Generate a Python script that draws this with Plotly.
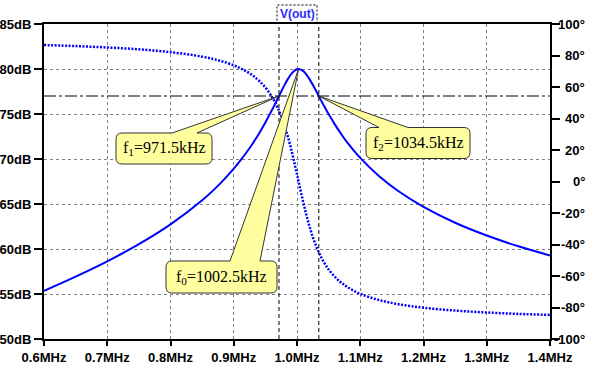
import plotly.graph_objects as go

# ---------------- data ----------------
freq_mhz = [0.60, 0.65, 0.70, 0.75, 0.80, 0.85, 0.88, 0.90, 0.91, 0.92, 0.93, 0.94, 0.95,
            0.96, 0.965, 0.97, 0.975, 0.98, 0.985, 0.99, 0.995, 1.00, 1.0025, 1.01, 1.015,
            1.02, 1.025, 1.03, 1.035, 1.04, 1.045, 1.05, 1.06, 1.07, 1.08, 1.10, 1.13,
            1.16, 1.20, 1.25, 1.30, 1.35, 1.40]
mag_db = [55.35, 56.93, 58.63, 60.53, 62.73, 65.41, 67.38, 68.92, 69.79, 70.72, 71.73, 72.84,
          74.06, 75.38, 76.07, 76.78, 77.49, 78.18, 78.82, 79.36, 79.76, 79.97, 80.00, 79.76,
          79.37, 78.85, 78.24, 77.59, 76.93, 76.26, 75.62, 74.99, 73.82, 72.76, 71.79, 70.12,
          68.08, 66.44, 64.68, 62.92, 61.50, 60.30, 59.28]
phase_deg = [86.64, 85.98, 85.10, 83.90, 82.13, 79.26, 76.47, 73.78, 72.03, 69.91, 67.29, 63.98,
             59.70, 54.03, 50.49, 46.33, 41.50, 35.81, 29.25, 21.76, 13.43, 4.54, 0.0, -13.34,
             -21.52, -28.83, -35.22, -40.72, -45.42, -49.44, -52.87, -55.84, -60.60, -64.25,
             -67.12, -71.32, -75.31, -77.88, -80.13, -81.95, -83.18, -84.06, -84.72]

x_ticks = [0.6, 0.7, 0.8, 0.9, 1.0, 1.1, 1.2, 1.3, 1.4]
x_ticktext = ["0.6MHz", "0.7MHz", "0.8MHz", "0.9MHz", "1.0MHz", "1.1MHz", "1.2MHz", "1.3MHz", "1.4MHz"]
y_ticks = [50, 55, 60, 65, 70, 75, 80, 85]
y_ticktext = ["50dB", "55dB", "60dB", "65dB", "70dB", "75dB", "80dB", "85dB"]
y2_ticks = [100, 80, 60, 40, 20, 0, -20, -40, -60, -80, -100]
y2_ticktext = ["100°", "80°", "60°", "40°", "20°", "0°", "-20°", "-40°", "-60°", "-80°", "-100°"]

cursor_khz = [971.5, 1002.5, 1034.5]      # f1, f0, f2
cursor_names = ["f<sub>1</sub>", "f<sub>0</sub>", "f<sub>2</sub>"]
peak_db = 80.0
level_3db = peak_db - 3.0

# ---------------- geometry ----------------
W, H = 595, 369
L, R, T, B = 44, 550, 24, 339
XMIN, XMAX = 0.6, 1.4
YMIN, YMAX = 50, 85


def fx(px):
    return XMIN + (px - L) * (XMAX - XMIN) / (R - L)


def fy(py):
    return YMAX - (py - T) * (YMAX - YMIN) / (B - T)


def px_x(px):
    return (px - L) / (R - L)


def px_y(py):
    return (B - py) / (B - T)


BLUE = "#0000ff"
FONT = "Liberation Sans, Arial, sans-serif"
tickfont = dict(family=FONT, size=13, color="black", weight="bold")

fig = go.Figure()
fig.add_trace(go.Scatter(x=freq_mhz, y=mag_db, mode="lines", yaxis="y",
                         line=dict(color=BLUE, width=2, shape="spline"), hoverinfo="skip"))
fig.add_trace(go.Scatter(x=freq_mhz, y=phase_deg, mode="lines", yaxis="y2",
                         line=dict(color=BLUE, width=2.5, dash="2px,1.5px", shape="spline"),
                         hoverinfo="skip"))

shapes = []
# cursor lines
for k in (cursor_khz[0], cursor_khz[2]):
    shapes.append(dict(type="line", xref="x", yref="paper", x0=k / 1000, x1=k / 1000, y0=0, y1=1,
                       line=dict(color="black", width=1, dash="4px,3px")))
shapes.append(dict(type="line", xref="paper", yref="y", x0=0, x1=1, y0=level_3db, y1=level_3db,
                   line=dict(color="black", width=1, dash="12px,3px,3px,3px")))


def callout(box, base, tip, r=6):
    x0, y0, x1, y1 = box
    p = "M{},{} ".format(fx(base[0]), fy(y0))
    p += "L{},{} ".format(tip[0], tip[1])
    p += "L{},{} ".format(fx(base[1]), fy(y0))
    p += "L{},{} ".format(fx(x1 - r), fy(y0))
    p += "Q{},{} {},{} ".format(fx(x1), fy(y0), fx(x1), fy(y0 + r))
    p += "L{},{} ".format(fx(x1), fy(y1 - r))
    p += "Q{},{} {},{} ".format(fx(x1), fy(y1), fx(x1 - r), fy(y1))
    p += "L{},{} ".format(fx(x0 + r), fy(y1))
    p += "Q{},{} {},{} ".format(fx(x0), fy(y1), fx(x0), fy(y1 - r))
    p += "L{},{} ".format(fx(x0), fy(y0 + r))
    p += "Q{},{} {},{} Z".format(fx(x0), fy(y0), fx(x0 + r), fy(y0))
    return dict(type="path", xref="x", yref="y", path=p, fillcolor="#ffffa0",
                line=dict(color="#333333", width=1), layer="above")


callouts = [
    ((116, 133, 212, 164), (172, 197), (cursor_khz[0] / 1000, level_3db)),
    ((166, 261, 277, 293), (230, 260), (cursor_khz[1] / 1000, peak_db)),
    ((366, 127.5, 470, 158.5), (379, 408), (cursor_khz[2] / 1000, level_3db)),
]
annotations = []
for (box, base, tip), name, k in zip(callouts, cursor_names, cursor_khz):
    shapes.append(callout(box, base, tip))
    annotations.append(dict(x=px_x((box[0] + box[2]) / 2), y=px_y((box[1] + box[3]) / 2),
                            xref="paper", yref="paper", showarrow=False,
                            text="{}={}kHz".format(name, k),
                            font=dict(family="Liberation Serif, Times New Roman, serif", size=16,
                                      color="black"),
                            xanchor="center", yanchor="middle"))

# trace-name box
shapes.append(dict(type="rect", xref="paper", yref="paper", x0=px_x(277), x1=px_x(317),
                   y0=px_y(23.5), y1=px_y(5), line=dict(color="black", width=1, dash="2px,2px")))
annotations.append(dict(x=px_x(297), y=px_y(14), xref="paper", yref="paper", showarrow=False,
                        text="V(out)", font=dict(family=FONT, size=12, color="#2a2aff", weight="bold"),
                        xanchor="center", yanchor="middle"))

# right-axis labels (right aligned)
for v, t in zip(y2_ticks, y2_ticktext):
    annotations.append(dict(x=1, xref="paper", y=v, yref="y2", xshift=37, xanchor="right",
                            yanchor="middle", showarrow=False, text=t, font=tickfont))

fig.update_layout(
    width=W, height=H,
    margin=dict(l=L, r=W - R, t=T, b=H - B, pad=0, autoexpand=False),
    paper_bgcolor="white", plot_bgcolor="white",
    showlegend=False,
    xaxis=dict(range=[XMIN, XMAX], tickvals=x_ticks, ticktext=x_ticktext, tickfont=tickfont,
               showgrid=True, gridcolor="#808080", gridwidth=1, griddash="3px,3px",
               showline=True, linecolor="black", linewidth=2, mirror=True, automargin=False,
               ticks="outside", ticklen=5, tickwidth=2, tickcolor="black", zeroline=False),
    yaxis=dict(range=[YMIN, YMAX], tickvals=y_ticks, ticktext=y_ticktext, tickfont=tickfont,
               showgrid=True, gridcolor="#808080", gridwidth=1, griddash="3px,3px",
               showline=True, linecolor="black", linewidth=2, automargin=False,
               ticks="outside", ticklen=8, tickwidth=2, tickcolor="black", zeroline=False),
    yaxis2=dict(range=[-100, 100], overlaying="y", side="right", tickvals=y2_ticks,
                showticklabels=False, showgrid=False, zeroline=False, automargin=False,
                showline=True, linecolor="black", linewidth=2,
                ticks="outside", ticklen=8, tickwidth=2, tickcolor="black"),
    shapes=shapes,
    annotations=annotations,
)

fig.write_html("out.html", config={"displayModeBar": False},
               post_script="document.body.style.margin='0';")
